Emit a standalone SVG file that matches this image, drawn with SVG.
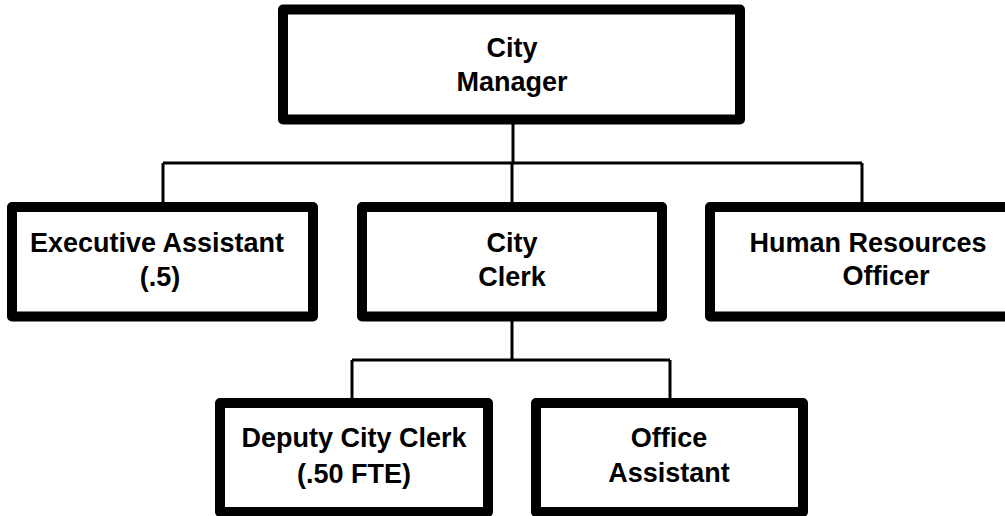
<svg xmlns="http://www.w3.org/2000/svg" width="1005" height="516" viewBox="0 0 1005 516">
  <style>
    .box { fill: #ffffff; stroke: #000000; stroke-width: 10; stroke-linejoin: round; }
    .link { fill: none; stroke: #000000; stroke-width: 3; }
    .label { font-family: "Liberation Sans", Arial, sans-serif; font-weight: bold; font-size: 27px; fill: #000000; text-anchor: middle; }
  </style>
  <rect width="1005" height="516" fill="#ffffff"/>

  <!-- connectors -->
  <g id="connectors">
    <path class="link" d="M513 124 V163"/>
    <path class="link" d="M163 163 H862"/>
    <path class="link" d="M163 163 V202"/>
    <path class="link" d="M512 163 V202"/>
    <path class="link" d="M862 163 V202"/>
    <path class="link" d="M512 321 V360"/>
    <path class="link" d="M352 360 H670"/>
    <path class="link" d="M352 360 V398"/>
    <path class="link" d="M670 360 V398"/>
  </g>

  <g id="city-manager">
    <rect class="box" x="283" y="9.5" width="457" height="110"/>
    <text class="label" x="512" y="57">City</text>
    <text class="label" x="512" y="91">Manager</text>
  </g>

  <g id="executive-assistant">
    <rect class="box" x="12" y="207" width="301" height="109.5"/>
    <text class="label" x="157" y="252">Executive Assistant</text>
    <text class="label" x="160" y="286">(.5)</text>
  </g>

  <g id="city-clerk">
    <rect class="box" x="362" y="207" width="300" height="109.5"/>
    <text class="label" x="512" y="252">City</text>
    <text class="label" x="512" y="286">Clerk</text>
  </g>

  <g id="human-resources-officer">
    <rect class="box" x="710" y="207" width="300" height="109.5"/>
    <text class="label" x="868" y="252">Human Resources</text>
    <text class="label" x="886" y="285">Officer</text>
  </g>

  <g id="deputy-city-clerk">
    <rect class="box" x="220" y="403" width="268" height="109"/>
    <text class="label" x="354" y="447">Deputy City Clerk</text>
    <text class="label" x="354" y="483">(.50 FTE)</text>
  </g>

  <g id="office-assistant">
    <rect class="box" x="536" y="403" width="267" height="109"/>
    <text class="label" x="669" y="447">Office</text>
    <text class="label" x="669" y="482">Assistant</text>
  </g>
</svg>
